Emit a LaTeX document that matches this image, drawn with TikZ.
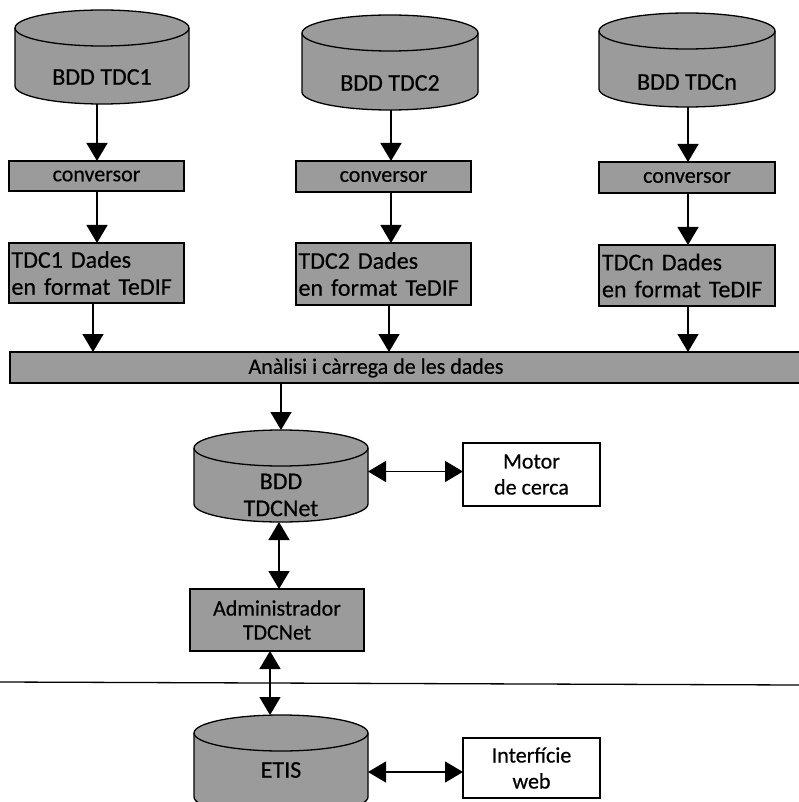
\documentclass[tikz,border=0pt]{standalone}
\usepackage{fontspec}
\setmainfont{Carlito}[FakeBold=0.5]
\usetikzlibrary{arrows.meta}
\definecolor{boxgray}{RGB}{155,155,155}
\tikzset{
  x=1pt, y=-1pt,
  every node/.style={font=\fontsize{24}{27}\selectfont},
  f22/.style={font=\fontsize{22}{26}\selectfont},
  graybox/.style={draw=black, line width=1.3pt, fill=boxgray, inner sep=0pt, outer sep=0pt, align=center},
  whitebox/.style={draw=black, line width=1.3pt, fill=white, inner sep=0pt, outer sep=0pt, align=center, f22},
  datbox/.style={graybox, align=left, text width=170pt, font=\fontsize{24}{27}\selectfont},
  txt/.style={inner sep=0pt, align=center},
  arr/.style={line width=1.3pt, -{Triangle[length=18pt,width=21pt]}},
  darr/.style={line width=1.3pt, {Triangle[length=18pt,width=21pt]}-{Triangle[length=18pt,width=21pt]}},
  pics/dbcyl/.style n args={4}{code={
    \path[draw=black, line width=1.3pt, fill=boxgray]
      (-#1/2,18) -- (-#1/2,#2-18)
      arc[start angle=180, end angle=0, x radius=#1/2, y radius=18]
      -- (#1/2,18)
      arc[start angle=0, end angle=-180, x radius=#1/2, y radius=18] -- cycle;
    \draw[line width=1.3pt] (-#1/2,18) arc[start angle=180, end angle=0, x radius=#1/2, y radius=18];
    \node[txt] (-t) at (0,#3) {#4};
    \coordinate (-top) at (0,0);
    \coordinate (-bot) at (0,#2);
    \coordinate (-e) at (#1/2,#2/2);
  }}
}
\begin{document}
\begin{tikzpicture}
\useasboundingbox (0,0) rectangle (799,802);
% top cylinders
\pic (c1) at (102,10) {dbcyl={174}{94}{67}{BDD TDC1}};
\pic (c2) at (390,15) {dbcyl={176}{95}{68}{BDD TDC2}};
\pic (cn) at (687,13) {dbcyl={176}{94}{69}{BDD TDCn}};
% column x positions
\coordinate (x1) at (97,0);
\coordinate (x2) at (391,0);
\coordinate (xn) at (688,0);
% converters
\node[graybox, f22, minimum width=175pt, minimum height=30pt] (conv1) at (96.5,176) {conversor};
\node[graybox, f22, minimum width=175pt, minimum height=31pt] (conv2) at (383.5,176.5) {conversor};
\node[graybox, f22, minimum width=176pt, minimum height=31pt] (convn) at (687,177.5) {conversor};
% data boxes
\node[datbox, minimum width=175pt, minimum height=60pt] (dat1) at (96.5,273) {TDC1 Dades\\en format TeDIF};
\node[datbox, minimum width=175pt, minimum height=62pt] (dat2) at (383.5,274) {TDC2 Dades\\en format TeDIF};
\node[datbox, minimum width=176pt, minimum height=61pt] (datn) at (687,275.5) {TDCn Dades\\en format TeDIF};
% bar
\node[graybox, minimum width=797pt, minimum height=31pt] (bar) at (408.5,367.5) {};
\node[txt, f22] (bartxt) at (376,368) {Anàlisi i càrrega de les dades};
% arrows top part
\draw[arr] (c1-bot -| x1) -- (conv1.north -| x1);
\draw[arr] (c2-bot -| x2) -- (conv2.north -| x2);
\draw[arr] (cn-bot -| xn) -- (convn.north -| xn);
\draw[arr] (conv1.south -| x1) -- (dat1.north -| x1);
\draw[arr] (conv2.south -| x2) -- (dat2.north -| x2);
\draw[arr] (convn.south -| xn) -- (datn.north -| xn);
\coordinate (y1) at (93,0);
\coordinate (y2) at (389,0);
\draw[arr] (dat1.south -| y1) -- (bar.north -| y1);
\draw[arr] (dat2.south -| y2) -- (bar.north -| y2);
\draw[arr] (datn.south -| xn) -- (bar.north -| xn);
% TDCNet
\pic (net) at (281,430) {dbcyl={174}{92}{65}{BDD\\TDCNet}};
\draw[arr] (bar.south -| net-top) -- (net-top);
\node[whitebox, minimum width=137pt, minimum height=63pt] (motor) at (531.5,474.5) {Motor\\de cerca};
\draw[darr] (net-e |- motor.west) ++(0,-3) coordinate (ne) -- (motor.west |- ne);
% admin
\node[graybox, minimum width=174pt, minimum height=62pt, font=\fontsize{22}{24}\selectfont] (admin) at (277,620) {Administrador\\TDCNet};
\coordinate (v1) at (279,0);
\draw[darr] (net-bot -| v1) -- (admin.north -| v1);
% separator line
\coordinate (l0) at (0,682);
\coordinate (l1) at (799,685);
\draw[line width=1.3pt] (l0) -- (l1);
% ETIS
\pic (etis) at (281,715) {dbcyl={174}{100}{55}{ETIS}};
\coordinate (v2) at (270,0);
\draw[darr] (admin.south -| v2) -- (etis-top -| v2);
\node[whitebox, minimum width=137pt, minimum height=60pt] (web) at (531.5,768) {Interfície\\web};
\draw[darr] (web.west -| etis-e) ++(0,4) coordinate (we) -- (web.west |- we);
\end{tikzpicture}
\end{document}
